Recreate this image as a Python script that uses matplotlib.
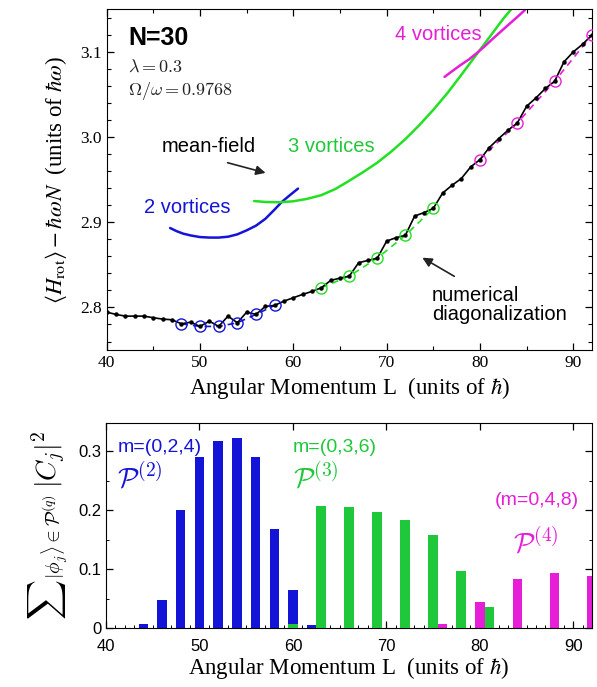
import matplotlib
matplotlib.use("Agg")
import matplotlib.pyplot as plt
from matplotlib.ticker import MultipleLocator

plt.rcParams['font.family'] = ['Liberation Sans', 'DejaVu Sans']
plt.rcParams['mathtext.fontset'] = 'stix'

# ---------------- data: top panel ----------------
L_num = list(range(40, 93))
E_num = [2.7945, 2.7918, 2.7898, 2.7898, 2.7898, 2.7879, 2.7863, 2.7855, 2.7808, 2.7827,
         2.7777, 2.7839, 2.7777, 2.7898, 2.7820, 2.7945, 2.7918, 2.8012, 2.8024, 2.8074,
         2.8114, 2.8153, 2.8188, 2.8231, 2.8317, 2.8344, 2.8368, 2.8525, 2.8552, 2.8579,
         2.8779, 2.8819, 2.8846, 2.9073, 2.9113, 2.9163, 2.9343, 2.9434, 2.9513, 2.9649,
         2.9736, 2.9877, 2.9982, 3.0080, 3.0166, 3.0362, 3.0460, 3.0570, 3.0656, 3.0883,
         3.1000, 3.1090, 3.1199]

circ2_L = [48, 50, 52, 54, 56, 58]
circ3_L = [63, 66, 69, 72, 75]
circ4_L = [80, 84, 88, 92]

mf2_L = [46.8, 47.5, 48.2, 49.0, 50.0, 51.0, 52.0, 53.0, 54.0, 55.0, 56.0, 57.0, 58.0, 58.75, 59.6, 60.5]
mf2_E = [2.8932, 2.8895, 2.8866, 2.8845, 2.8826, 2.8820, 2.8820, 2.8830, 2.8858, 2.8905,
         2.8960, 2.9040, 2.9150, 2.9237, 2.9315, 2.9395]

mf3_L = [55.8, 57.0, 58.5, 60.0, 61.5, 63.0, 64.5, 66.0, 67.5, 69.0, 70.5, 72.0, 73.5, 75.0,
         76.5, 78.0, 79.6, 81.0, 82.5, 83.5]
mf3_E = [2.9249, 2.9238, 2.9234, 2.9246, 2.9275, 2.9318, 2.9390, 2.9488, 2.9590, 2.9700,
         2.9830, 2.9975, 3.0140, 3.0320, 3.0515, 3.0730, 3.0965, 3.1170, 3.1390, 3.1520]

mf4_L = [76.2, 77.0, 77.9, 78.8, 79.6, 80.5, 81.4, 82.3, 83.2, 84.0, 84.8]
mf4_E = [3.0706, 3.0772, 3.0844, 3.0910, 3.0981, 3.1065, 3.1157, 3.1245, 3.1333, 3.1410, 3.1490]

# ---------------- data: bottom panel ----------------
p2_L = [44, 46, 48, 50, 52, 54, 56, 58, 60, 62]
p2_w = [0.006, 0.047, 0.200, 0.290, 0.317, 0.322, 0.290, 0.168, 0.064, 0.005]
p3_L = [60, 63, 66, 69, 72, 75, 78, 81]
p3_w = [0.007, 0.207, 0.205, 0.197, 0.183, 0.158, 0.097, 0.036]
p4_L = [76, 80, 84, 88, 92]
p4_w = [0.007, 0.044, 0.083, 0.093, 0.088]

x_ticks = [40, 50, 60, 70, 80, 90]
top_y_ticks = [2.8, 2.9, 3.0, 3.1]
bot_y_ticks = [0, 0.1, 0.2, 0.3]

BLUE = '#1414d8'
GREEN_LINE = '#22e022'
GREEN_BAR = '#1ec83a'
MAG = '#e61ed8'

fig = plt.figure(figsize=(5.97, 6.87), dpi=100)
ax1 = fig.add_axes([0.1787, 0.4905, 0.8129, 0.496])
ax2 = fig.add_axes([0.1776, 0.0859, 0.8140, 0.2984])

E_of = dict(zip(L_num, E_num))

# ---- top panel ----
ax1.plot(mf2_L, mf2_E, color=BLUE, lw=1.8, zorder=2, solid_capstyle='round')
ax1.plot(mf3_L, mf3_E, color=GREEN_LINE, lw=1.8, zorder=2, solid_capstyle='round')
ax1.plot(mf4_L, mf4_E, color=MAG, lw=1.8, zorder=2, solid_capstyle='round')

for cl, col in [(circ2_L, BLUE), (circ3_L, GREEN_LINE), (circ4_L, MAG)]:
    ys = [E_of[l] for l in cl]
    ax1.plot(cl, ys, ls=(0, (4, 3)), color=col, lw=1.2, zorder=3)
    ax1.plot(cl, ys, ls='none', marker='o', ms=8, mfc='none', mec=col, mew=1.0, zorder=5)

ax1.plot(L_num, E_num, color='black', lw=1.2, marker='o', ms=2.2, zorder=4)

ax1.set_xlim(40, 92)
ax1.set_ylim(2.75, 3.15)
ax1.set_xticks(x_ticks)
ax1.set_yticks(top_y_ticks)
ax1.set_yticklabels(['2.8', '2.9', '3.0', '3.1'])
ax1.xaxis.set_minor_locator(MultipleLocator(5))
ax1.yaxis.set_minor_locator(MultipleLocator(0.02))
ax1.tick_params(which='both', direction='in', top=True, right=True)
ax1.tick_params(which='major', length=5, width=0.9)
ax1.tick_params(which='minor', length=3, width=0.8)
for lab in ax1.get_xticklabels() + ax1.get_yticklabels():
    lab.set_family(['Liberation Serif'])
    lab.set_fontsize(12.5)

ax1.set_xlabel(r'Angular Momentum L  (units of $\hbar$)', family='Liberation Serif', fontsize=16.5, labelpad=3)
ax1.set_ylabel(r'$\langle H_{\rm rot}\rangle - \hbar\omega N$  (units of $\hbar\omega$)',
               family='Liberation Serif', fontsize=16.5, labelpad=8)

ax1.text(42.28, 3.1079, 'N=30', fontsize=18, fontweight='bold', color='black')
ax1.text(42.28, 3.0761, r'$\lambda = 0.3$', fontsize=13, math_fontfamily='cm', color='#222222')
ax1.text(42.28, 3.0491, r'$\Omega/\omega = 0.9768$', fontsize=13, math_fontfamily='cm', color='#222222')

ax1.text(45.89, 2.9821, 'mean-field', fontsize=14.5, color='black')
ax1.annotate('', xy=(57.31, 2.9571), xytext=(52.67, 2.9707),
             arrowprops=dict(arrowstyle='-|>', color='#222222', lw=1.2, mutation_scale=14))
ax1.text(44.0, 2.9105, '2 vortices', fontsize=14.5, color=BLUE)
ax1.text(59.46, 2.9825, '3 vortices', fontsize=14.5, color='#22c83a')
ax1.text(70.89, 3.1137, '4 vortices', fontsize=14.5, color=MAG)
ax1.text(74.82, 2.8074, 'numerical', fontsize=14.5, color='black')
ax1.text(74.82, 2.7847, 'diagonalization', fontsize=14.5, color='black')
ax1.annotate('', xy=(73.57, 2.8600), xytext=(77.5, 2.8349),
             arrowprops=dict(arrowstyle='-|>', color='#222222', lw=1.2, mutation_scale=14))

# ---- bottom panel ----
ax2.bar(p2_L, p2_w, width=1.0, color=BLUE, zorder=2)
ax2.bar(p3_L, p3_w, width=1.0, color=GREEN_BAR, zorder=3)
ax2.bar(p4_L, p4_w, width=1.0, color=MAG, zorder=2)

ax2.set_xlim(40, 92)
ax2.set_ylim(0, 0.348)
ax2.set_xticks(x_ticks)
ax2.set_yticks(bot_y_ticks)
ax2.set_yticklabels(['0', '0.1', '0.2', '0.3'])
ax2.xaxis.set_minor_locator(MultipleLocator(1))
ax2.yaxis.set_minor_locator(MultipleLocator(0.05))
ax2.tick_params(which='both', direction='in', right=True, labelsize=12)
ax2.tick_params(which='major', length=5, width=0.9, top=True)
ax2.tick_params(which='minor', length=2.5, width=0.7, top=False)
ax2.tick_params(axis='x', which='major', pad=8)

ax2.set_xlabel(r'Angular Momentum L  (units of $\hbar$)', family='Liberation Serif', fontsize=16.5, labelpad=1)
ax2.set_ylabel(r'${\sum}_{|\phi_j\rangle\in\mathcal{P}^{(q)}}\,|C_j|^2$', fontsize=20,
               math_fontfamily='cm', labelpad=6)

ax2.text(41.21, 0.2983, 'm=(0,2,4)', fontsize=14, color=BLUE)
ax2.text(41.21, 0.2395, r'$\mathcal{P}^{(2)}$', fontsize=20, color=BLUE, math_fontfamily='cm')
ax2.text(59.96, 0.2983, 'm=(0,3,6)', fontsize=14, color=GREEN_BAR)
ax2.text(59.96, 0.2395, r'$\mathcal{P}^{(3)}$', fontsize=20, color=GREEN_BAR, math_fontfamily='cm')
ax2.text(81.6, 0.2085, '(m=0,4,8)', fontsize=14, color=MAG)
ax2.text(83.5, 0.1293, r'$\mathcal{P}^{(4)}$', fontsize=20, color=MAG, math_fontfamily='cm')

fig.savefig('out.png', dpi=100)
